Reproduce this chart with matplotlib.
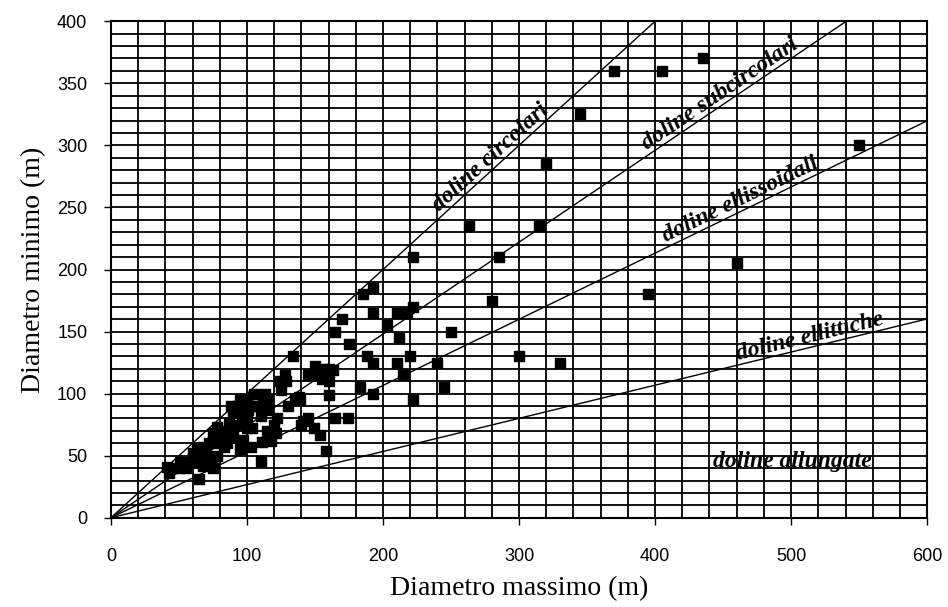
import numpy as np
import matplotlib
matplotlib.use("Agg")
import matplotlib.pyplot as plt

# diametro massimo / minimo delle doline (m)
d_max = [370, 405, 435, 550, 345, 320, 263, 315, 285, 222, 280, 395, 460, 300, 330,
         245, 240, 250, 222, 185, 193, 193, 210, 218, 222, 212, 203, 220, 215, 210,
         188, 193, 183, 193, 175, 170, 165, 174, 165, 160, 160, 163, 158, 155, 150,
         145, 149, 154, 141, 139, 135, 134, 129, 124, 125, 145, 140, 157, 121, 118,
         115, 112, 110, 110, 111, 108, 105, 103, 101, 100, 100, 98, 95, 95, 96,
         93, 90, 90, 88, 87, 85, 85, 82, 80, 80, 78, 75, 75, 74, 75,
         72, 70, 70, 68, 65, 65, 63, 60, 55, 55, 51, 50, 45, 43, 41,
         120, 122, 113, 115, 130, 104, 92, 97, 83, 90, 100, 105, 128, 138, 150,
         160, 115, 78, 68, 60]
d_min = [360, 360, 370, 300, 325, 285, 235, 235, 210, 210, 175, 180, 205, 130, 125,
         105, 125, 150, 95, 180, 185, 165, 165, 165, 170, 145, 155, 130, 115, 125,
         130, 125, 105, 100, 140, 160, 150, 80, 80, 99, 110, 119, 54, 112, 122,
         115, 72, 67, 78, 95, 95, 130, 110, 110, 103, 80, 75, 120, 68, 62,
         87, 98, 82, 46, 61, 90, 100, 57, 87, 72, 95, 88, 95, 55, 80,
         90, 73, 65, 90, 76, 70, 60, 65, 70, 60, 73, 68, 62, 44, 40,
         60, 49, 55, 57, 45, 31, 55, 52, 45, 40, 45, 40, 40, 36, 41,
         75, 80, 100, 95, 90, 72, 75, 63, 57, 85, 80, 90, 115, 97, 115,
         120, 70, 50, 42, 48]

# rapporti diametro minimo / massimo che separano le classi
class_slopes = [1.0, 0.74, 0.533, 0.267]
class_names = ["doline circolari", "doline subcircolari",
               "doline ellissoidali", "doline ellittiche"]
label_x = [284, 452, 466, 516]

fig = plt.figure(figsize=(9.48, 6.07), dpi=100)
ax = fig.add_axes([0.117, 0.147, 0.861, 0.818])

ax.set_xlim(0, 600)
ax.set_ylim(0, 400)
ax.set_xticks(np.arange(0, 601, 100))
ax.set_yticks(np.arange(0, 401, 50))
ax.set_xticks(np.arange(0, 601, 20), minor=True)
ax.set_yticks(np.arange(0, 401, 10), minor=True)
ax.grid(which="both", color="black", linewidth=1.3)
ax.set_axisbelow(True)
ax.tick_params(which="minor", length=0)
ax.tick_params(axis="x", which="major", length=5, width=1, pad=17,
               labelsize=13)
ax.tick_params(axis="y", which="major", length=5, width=1, pad=12,
               labelsize=13)
for lab in ax.get_xticklabels() + ax.get_yticklabels():
    lab.set_fontfamily("Liberation Sans")
for sp in ax.spines.values():
    sp.set_color("black")
    sp.set_linewidth(1.5)

xs = np.array([0, 600])
bbox = ax.get_window_extent()
px_ratio = (bbox.height / 400) / (bbox.width / 600)
for k, name, lx in zip(class_slopes, class_names, label_x):
    ax.plot(xs, k * xs, color="black", linewidth=1.0, zorder=3)
    ang = np.degrees(np.arctan(k * px_ratio))
    ax.text(lx, k * lx, name, rotation=ang, rotation_mode="anchor",
            ha="center", va="bottom", fontsize=17, fontstyle="italic",
            fontweight="bold", family="Liberation Serif", zorder=4)

ax.text(501, 45, "doline allungate", ha="center", va="center", fontsize=17,
        fontstyle="italic", fontweight="bold", family="Liberation Serif",
        zorder=4)

ax.scatter(d_max, d_min, marker="s", s=45, color="black", zorder=5,
           clip_on=False)

ax.set_xlabel("Diametro massimo (m)", family="Liberation Serif", fontsize=20,
              labelpad=8)
ax.set_ylabel("Diametro minimo (m)", family="Liberation Serif", fontsize=20,
              labelpad=8)

fig.savefig("out.png", dpi=100)
